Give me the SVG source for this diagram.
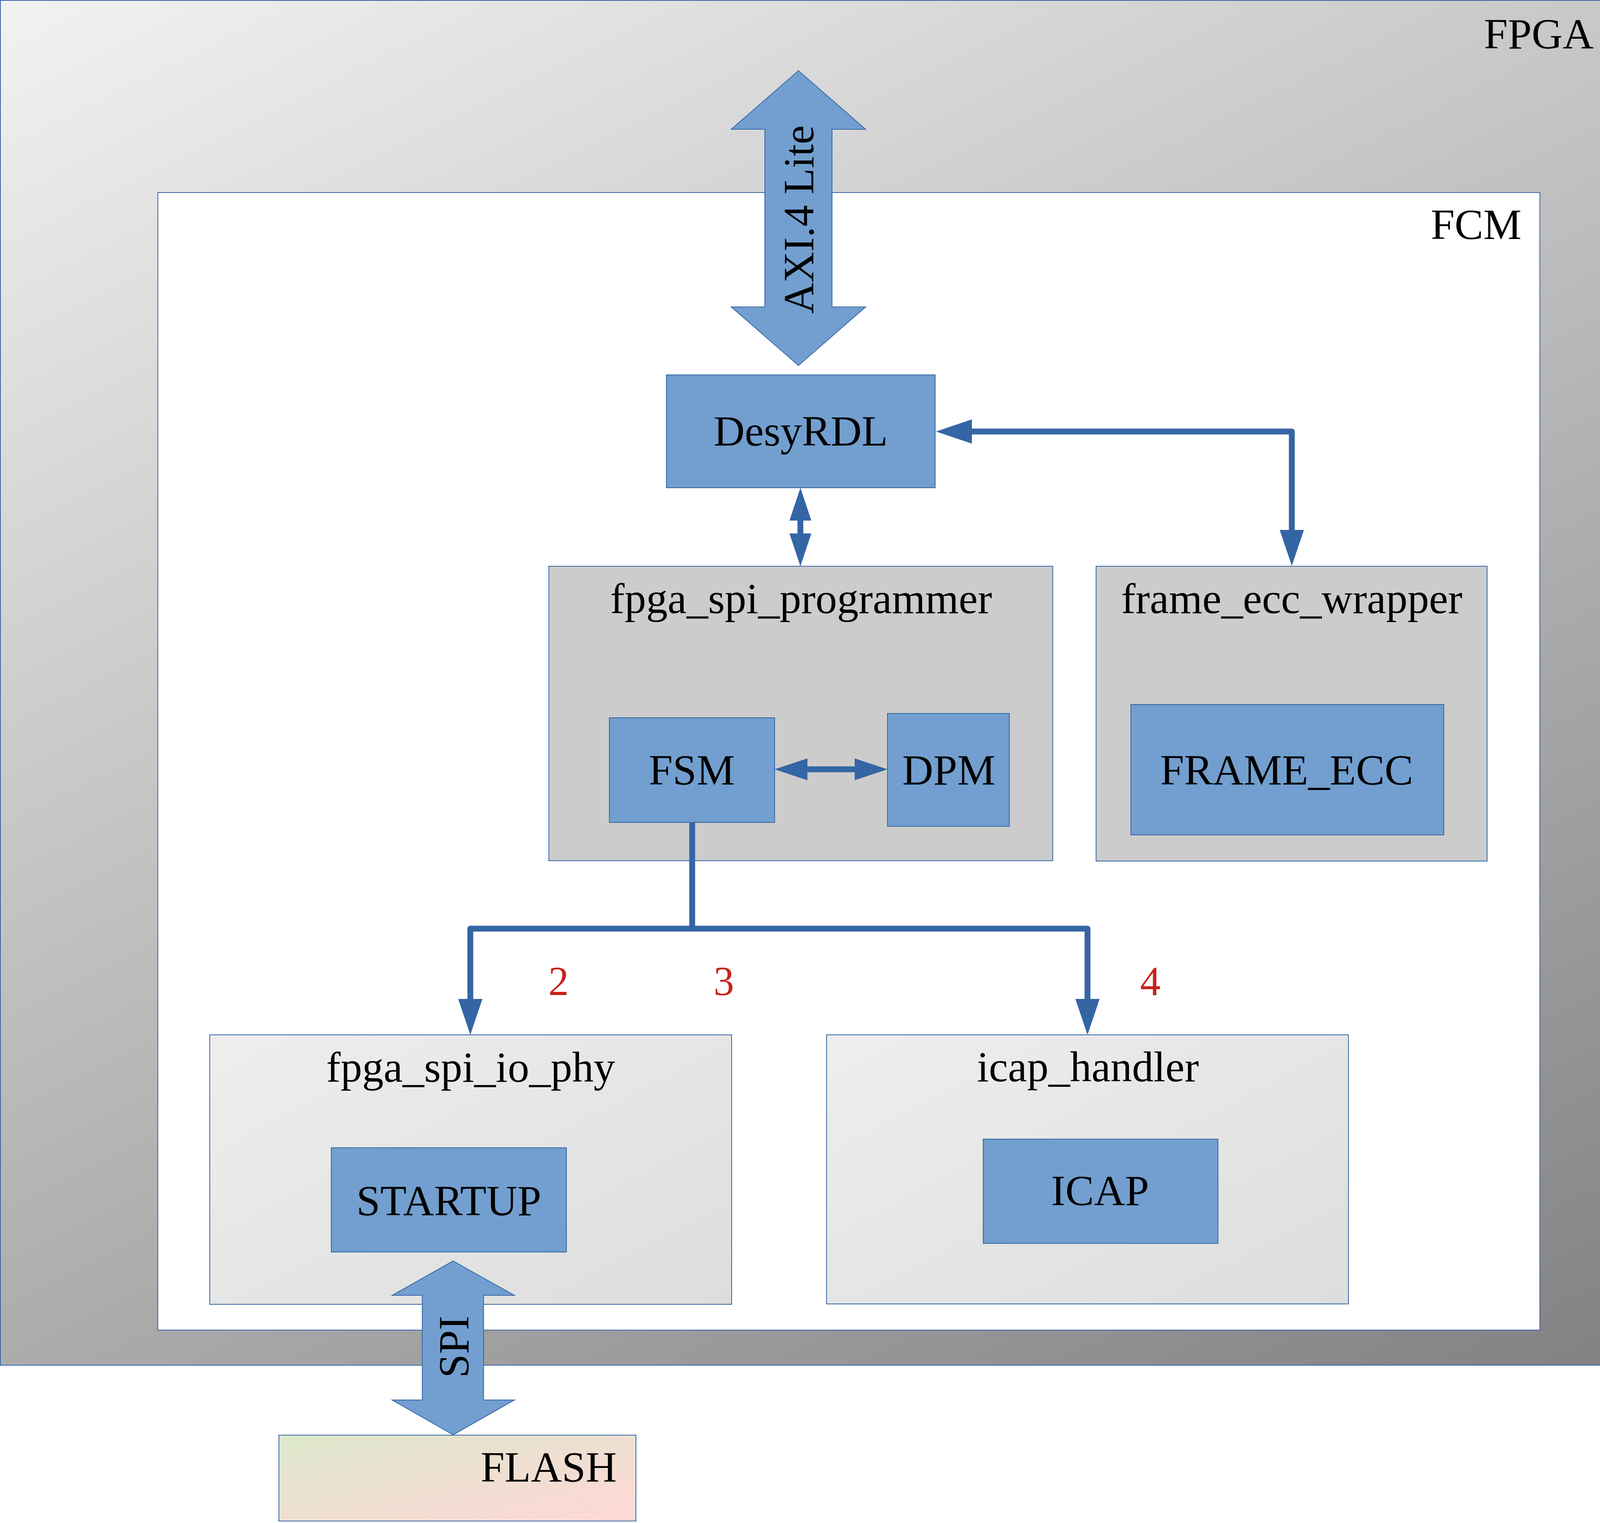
<svg xmlns="http://www.w3.org/2000/svg" width="4301" height="3900" viewBox="0 0 4301 3900">
<style>
text{font-family:"Liberation Serif","Times New Roman",serif;font-size:110px;fill:#000}
.c{text-anchor:middle}
.e{text-anchor:end}
.num{font-size:105px;fill:#c9211e;text-anchor:middle}
.blk{fill:#729fcf;stroke:#3465a4;stroke-width:2}
.grp{fill:#cccccc;stroke:#3465a4;stroke-width:2}
.grpg{fill:url(#gLight);stroke:#3465a4;stroke-width:2}
.con{fill:none;stroke:#3465a4;stroke-width:15;stroke-linejoin:round}
.bus{fill:#729fcf;stroke:#3465a4;stroke-width:2}
</style>
<defs>
<linearGradient id="gFpga" gradientUnits="userSpaceOnUse" x1="0" y1="0" x2="2258" y2="4516">
<stop offset="0" stop-color="#f2f2f2"/><stop offset="1" stop-color="#808080"/>
</linearGradient>
<linearGradient id="gLight" x1="0" y1="0" x2="1" y2="1">
<stop offset="0" stop-color="#eeeeee"/><stop offset="1" stop-color="#dddddd"/>
</linearGradient>
<linearGradient id="gFlash" x1="0" y1="0" x2="1" y2="1">
<stop offset="0" stop-color="#dde8cb"/><stop offset="1" stop-color="#ffd7d7"/>
</linearGradient>
<marker id="ah" viewBox="0 0 92 62" refX="0" refY="31" markerWidth="92" markerHeight="62" markerUnits="userSpaceOnUse" orient="auto-start-reverse">
<path d="M0,0 L92,31 L0,62 z" fill="#3465a4"/>
</marker>
<marker id="as" viewBox="0 0 84 56" refX="0" refY="28" markerWidth="84" markerHeight="56" markerUnits="userSpaceOnUse" orient="auto-start-reverse">
<path d="M0,0 L84,28 L0,56 z" fill="#3465a4"/>
</marker>
</defs>

<g id="fpga">
<rect x="1" y="1" width="4298" height="3495" fill="url(#gFpga)" stroke="#3465a4" stroke-width="2"/>
<text class="e" x="4080" y="124">FPGA</text>
</g>

<g id="fcm">
<rect x="404" y="493" width="3538" height="2913" fill="#ffffff" stroke="#3465a4" stroke-width="2"/>
<text class="e" x="3895" y="612">FCM</text>
</g>

<g id="axi4lite">
<polygon class="bus" points="2044,181 2216,331 2130,331 2130,786 2216,786 2044,936 1872,786 1958,786 1958,331 1872,331"/>
<text class="c" transform="translate(2082,562) rotate(-90)" x="0" y="0">AXI.4 Lite</text>
</g>

<g id="desyrdl">
<rect class="blk" x="1706" y="960" width="688" height="289"/>
<text class="c" x="2050" y="1141">DesyRDL</text>
</g>

<g id="fpga_spi_programmer">
<rect class="grp" x="1405" y="1450" width="1290" height="754"/>
<text class="c" x="2051" y="1570">fpga_spi_programmer</text>
</g>

<g id="fsm">
<rect class="blk" x="1560" y="1838" width="423" height="268"/>
<text class="c" x="1771" y="2009">FSM</text>
</g>

<g id="dpm">
<rect class="blk" x="2272" y="1827" width="312" height="289"/>
<text class="c" x="2429" y="2009">DPM</text>
</g>

<g id="frame_ecc_wrapper">
<rect class="grp" x="2806" y="1450" width="1001" height="755"/>
<text class="c" x="3307" y="1570">frame_ecc_wrapper</text>
</g>

<g id="frame_ecc">
<rect class="blk" x="2895" y="1804" width="801" height="334"/>
<text class="c" x="3294" y="2009">FRAME_ECC</text>
</g>

<g id="fpga_spi_io_phy">
<rect class="grpg" x="537" y="2650" width="1336" height="690"/>
<text class="c" x="1205" y="2770">fpga_spi_io_phy</text>
</g>

<g id="startup">
<rect class="blk" x="848" y="2939" width="602" height="267"/>
<text class="c" x="1149" y="3112">STARTUP</text>
</g>

<g id="icap_handler">
<rect class="grpg" x="2116" y="2650" width="1336" height="689"/>
<text class="c" x="2785" y="2769">icap_handler</text>
</g>

<g id="icap">
<rect class="blk" x="2517" y="2917" width="601" height="267"/>
<text class="c" x="2816" y="3086">ICAP</text>
</g>

<g id="spi">
<polygon class="bus" points="1160,3229 1317,3317 1238,3317 1238,3585 1317,3585 1160,3674 1004,3585 1081,3585 1081,3317 1004,3317"/>
<text class="c" transform="translate(1199,3449) rotate(-90)" x="0" y="0">SPI</text>
</g>

<g id="flash">
<rect x="714" y="3675" width="914" height="220" fill="url(#gFlash)" stroke="#3465a4" stroke-width="2"/>
<text class="e" x="1579" y="3794">FLASH</text>
</g>

<g id="connectors">
<path class="con" d="M2488,1105 L3307,1105 L3307,1357" marker-start="url(#ah)" marker-end="url(#ah)"/>
<path class="con" d="M2049,1333 L2049,1366" marker-start="url(#as)" marker-end="url(#as)"/>
<path class="con" d="M2067,1970 L2188,1970" marker-start="url(#as)" marker-end="url(#as)"/>
<path class="con" d="M1772,2106 L1772,2378"/>
<path class="con" d="M1204,2558 L1204,2378 L2784,2378 L2784,2558" marker-start="url(#ah)" marker-end="url(#ah)"/>
</g>

<g id="labels">
<text class="num" x="1430" y="2548">2</text>
<text class="num" x="1853" y="2548">3</text>
<text class="num" x="2945" y="2548">4</text>
</g>
</svg>
